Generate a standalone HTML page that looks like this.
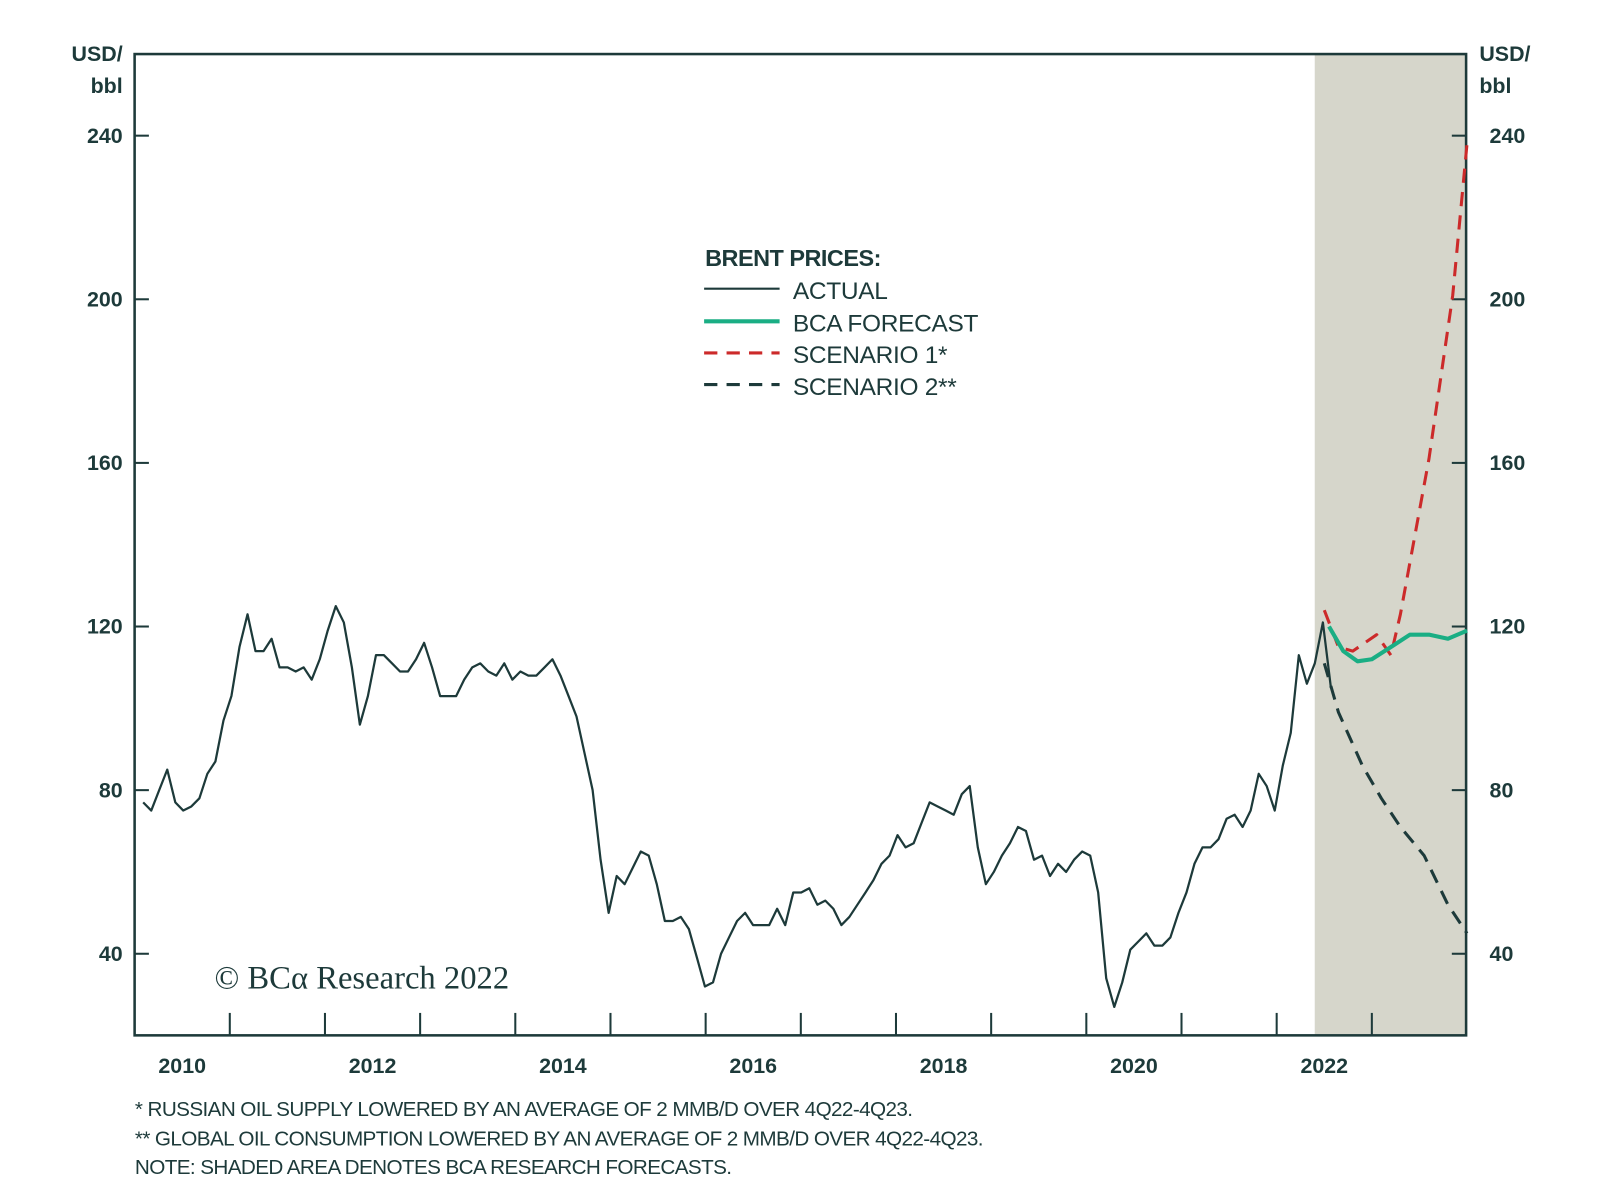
<!DOCTYPE html>
<html><head><meta charset="utf-8"><style>
body{margin:0;background:#fff;}
svg{display:block;font-family:"Liberation Sans",sans-serif;}
.t{fill:#1d3a3a;font-weight:bold;font-size:21px;}
</style></head><body>
<svg id="chart" width="1600" height="1195" viewBox="0 0 1568 1171.5">
<g id="g"></g>
</svg>
<script>
const tickLabels = [40, 80, 120, 160, 200, 240];
const yearLabels = [2010, 2012, 2014, 2016, 2018, 2020, 2022];
const actualStart = 2010.09;
const actualEnd = 2022.57;
const actual = [77,75,80,85,77,75,76,78,84,87,97,103,115,123,114,114,117,110,110,109,110,107,112,119,125,121,110,96,103,113,113,111,109,109,112,116,110,103,103,103,107,110,111,109,108,111,107,109,108,108,110,112,108,103,98,89,80,63,50,59,57,61,65,64,57,48,48,49,46,39,32,33,40,44,48,50,47,47,47,51,47,55,55,56,52,53,51,47,49,52,55,58,62,64,69,66,67,72,77,76,75,74,79,81,66,57,60,64,67,71,70,63,64,59,62,60,63,65,64,55,34,27,33,41,43,45,42,42,44,50,55,62,66,66,68,73,74,71,75,84,81,75,86,94,113,106,111,121,105];
const bcaT = [2022.55, 2022.7, 2022.85, 2023.0, 2023.2, 2023.4, 2023.6, 2023.8, 2024.0];
const bcaV = [120, 114, 111.5, 112, 115, 118, 118, 117, 119];
const s1T = [2022.5, 2022.65, 2022.8, 2023.05, 2023.2, 2023.3, 2023.6, 2023.85, 2024.0];
const s1V = [124, 115, 114, 118, 113, 123, 161, 201, 238];
const s2T = [2022.5, 2022.65, 2022.9, 2023.1, 2023.3, 2023.55, 2023.8, 2024.0];
const s2V = [111, 99, 86, 78, 71, 64, 52, 45];

const L=131.7, R=1437, T=53, B=1015;
const X = t => L + (t - 2010) * 93.3;
const Y = v => 935 - (v - 40) * 4.01;
const NS="http://www.w3.org/2000/svg";
const g=document.getElementById('g');
function el(tag, attrs, parent){const e=document.createElementNS(NS,tag);for(const k in attrs)e.setAttribute(k,attrs[k]);(parent||g).appendChild(e);return e;}

const shade=el('rect',{x:X(2022.4),y:T,width:R-X(2022.4),height:B-T,fill:'#d6d6cb'});


const frame=el('rect',{x:L,y:T,width:R-L,height:B-T,fill:'none',stroke:'#1d3a3a','stroke-width':2.5});



tickLabels.forEach(v=>{
  const y=Y(v);
  el('line',{x1:L,x2:L+14,y1:y,y2:y,stroke:'#1d3a3a','stroke-width':2});
  el('line',{x1:R-14,x2:R,y1:y,y2:y,stroke:'#1d3a3a','stroke-width':2});
  const a=el('text',{x:120,y:y+7,'text-anchor':'end',class:'t'});a.textContent=v;
  
  
  const b=el('text',{x:1460,y:y+7,class:'t'});b.textContent=v;
  
  
});
for(let yr=2011; yr<=2023; yr++){
  el('line',{x1:X(yr),x2:X(yr),y1:B-22,y2:B,stroke:'#1d3a3a','stroke-width':2});
}
yearLabels.forEach(yr=>{
  const t=el('text',{x:X(yr+0.5),y:1052,'text-anchor':'middle',class:'t'});t.textContent=yr;
  
  
});
[['USD/',120,60,'end'],['bbl',120,91,'end'],['USD/',1450,60,'start'],['bbl',1450,91,'start']].forEach(([s,x,y,a])=>{
  const t=el('text',{x:x,y:y,'text-anchor':a,class:'t'});t.textContent=s;
  
  
});

function line(ts,vs,attrs,name){
  const d=ts.map((t,i)=>(i?'L':'M')+X(t).toFixed(1)+' '+Y(vs[i]).toFixed(1)).join(' ');
  const p=el('path',Object.assign({d:d,fill:'none','stroke-linejoin':'round'},attrs));
  
  
}
line(actual.map((v,i)=>actualStart+i*(actualEnd-actualStart)/(actual.length-1)),actual,{stroke:'#1d3a3a','stroke-width':2.2},'actual-line');
line(s2T,s2V,{stroke:'#1d3a3a','stroke-width':3,'stroke-dasharray':'14 9'},'scenario-2-line');
line(s1T,s1V,{stroke:'#cc2a2a','stroke-width':3,'stroke-dasharray':'14 9'},'scenario-1-line');
line(bcaT,bcaV,{stroke:'#1aae84','stroke-width':4},'bca-forecast-line');

const lg=el('g',{});


const lt=el('text',{x:691,y:261,style:'font-weight:bold;font-size:23px;fill:#1d3a3a;letter-spacing:-0.5px'},lg);lt.textContent='BRENT PRICES:';
[['ACTUAL','#1d3a3a',2,'',293],['BCA FORECAST','#1aae84',4,'',325],['SCENARIO 1*','#cc2a2a',3,'13 9',356],['SCENARIO 2**','#1d3a3a',3,'13 9',387]].forEach(([s,c,w,da,y])=>{
  const e=el('line',{x1:690,x2:764,y1:y-10,y2:y-10,stroke:c,'stroke-width':w,'stroke-dasharray':da},lg);
  
  
  const t=el('text',{x:777,y:y,style:'font-size:24px;fill:#1d3a3a;letter-spacing:-0.3px'},lg);t.textContent=s;
  
  
});
const cp=el('text',{x:210,y:969,style:'font-family:Liberation Serif,serif;font-size:32px;fill:#1d3a3a'});cp.textContent='© BCα Research 2022';


[['* RUSSIAN OIL SUPPLY LOWERED BY AN AVERAGE OF 2 MMB/D OVER 4Q22-4Q23.',1094],['** GLOBAL OIL CONSUMPTION LOWERED BY AN AVERAGE OF 2 MMB/D OVER 4Q22-4Q23.',1123],['NOTE: SHADED AREA DENOTES BCA RESEARCH FORECASTS.',1151]].forEach(([s,y])=>{
  const t=el('text',{x:132,y:y,style:'font-size:20.3px;fill:#1d3a3a;letter-spacing:-0.6px'});t.textContent=s;
  
  
});
</script>
</body></html>
